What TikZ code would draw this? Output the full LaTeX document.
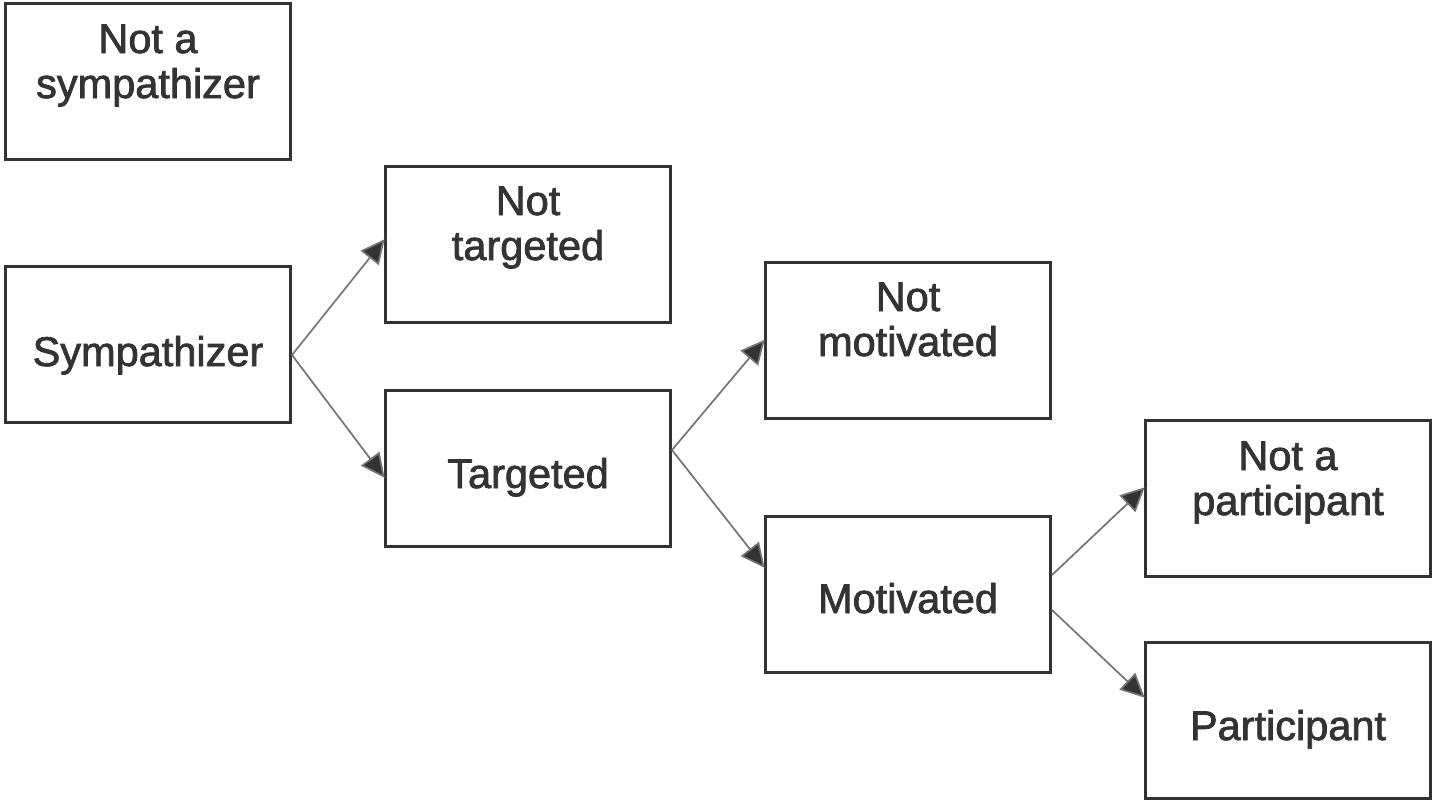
\documentclass[tikz,border=0pt]{standalone}
\usepackage{fontspec}
\setmainfont{Liberation Sans}[FakeBold=1.8]
\usetikzlibrary{arrows.meta}
\definecolor{edge}{HTML}{333333}
\definecolor{wire}{HTML}{747474}
\tikzset{
  box/.style={draw=edge, line width=3pt, minimum width=285pt, minimum height=156pt, inner sep=0pt},
  lbl/.style={font=\fontsize{41.5}{45}\selectfont, text=edge, align=center, anchor=base, inner sep=0pt},
  link/.style={draw=wire, line width=1.7pt, -{Triangle[length=24pt,width=23pt,fill=edge]}, shorten >=-1pt}
}
\begin{document}
\begin{tikzpicture}[x=1pt, y=-1pt]
\useasboundingbox (0,0) rectangle (1432,801);
% boxes
\node[box] (nsym) at (148,81.5) {};
\node[box] (sym)  at (148,344.5) {};
\node[box] (nt)   at (528,244) {};
\node[box] (tg)   at (528,468) {};
\node[box] (nm)   at (908,340.5) {};
\node[box] (mo)   at (908,594) {};
\node[box] (np)   at (1288,498) {};
\node[box] (pa)   at (1288,720.5) {};
% labels (anchored on the baseline of the last line)
\node[lbl] (nsymT) at (148,98)  {Not a\\sympathizer};
\node[lbl] (symT)  at (148,366) {Sympathizer};
\node[lbl] (ntT)   at (528,260) {Not\\targeted};
\node[lbl] (tgT)   at (528,488) {Targeted};
\node[lbl] (nmT)   at (908,356) {Not\\motivated};
\node[lbl] (moT)   at (908,613) {Motivated};
\node[lbl] (npT)   at (1288,515) {Not a\\participant};
\node[lbl] (paT)   at (1288,740) {Participant};
% connectors
\draw[link] ([yshift=-10.5pt]sym.east) -- ([yshift=4pt]nt.west);
\draw[link] ([yshift=-10.5pt]sym.east) -- ([yshift=-9pt]tg.west);
\draw[link] ([yshift=18pt]tg.east) -- (nm.west);
\draw[link] ([yshift=18pt]tg.east) -- ([yshift=27pt]mo.west);
\draw[link] ([yshift=19pt]mo.east) -- ([yshift=10pt]np.west);
\draw[link] ([yshift=-16pt]mo.east) -- ([yshift=23.5pt]pa.west);
\end{tikzpicture}
\end{document}
